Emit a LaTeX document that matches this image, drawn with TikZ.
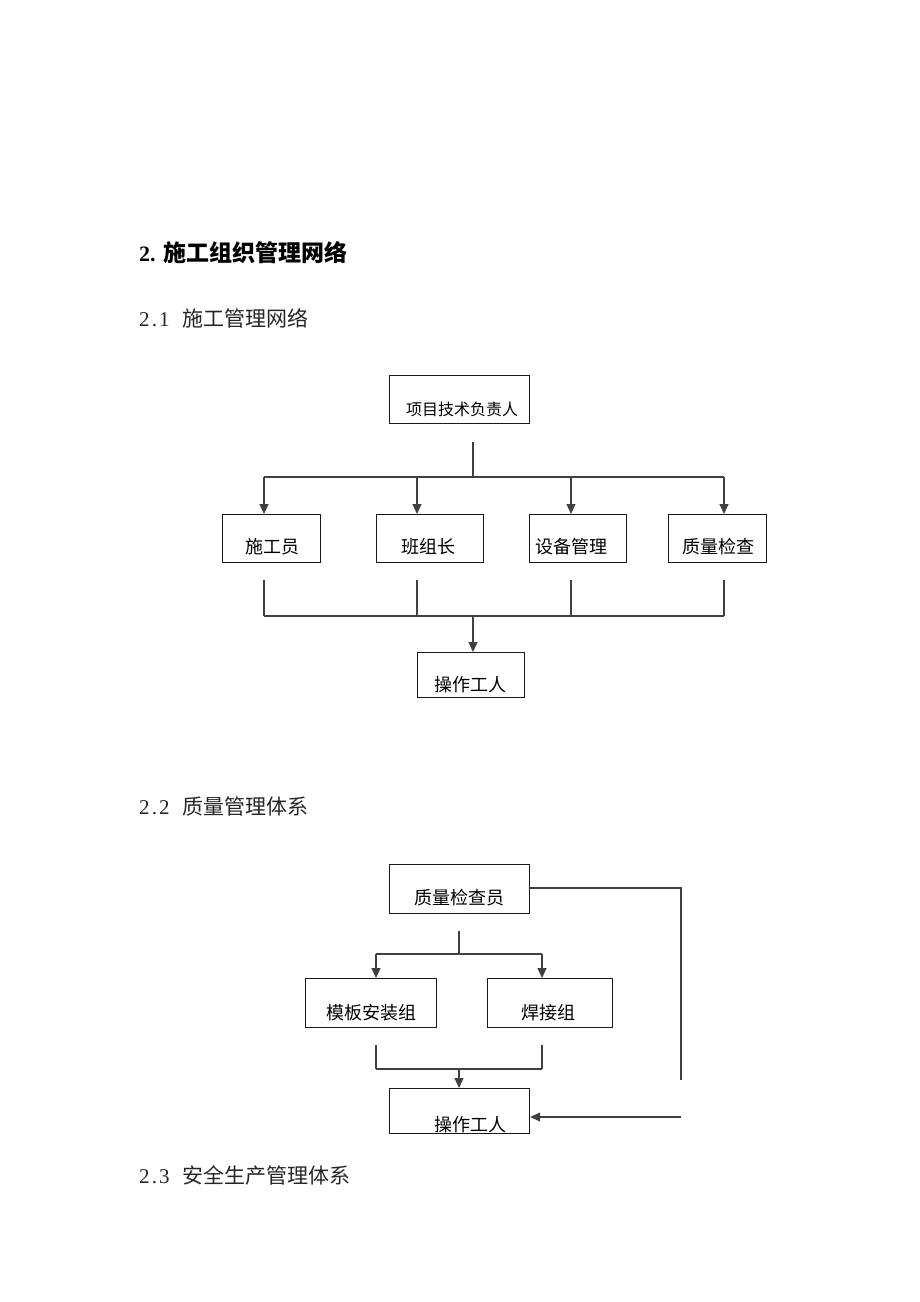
\documentclass[tikz,border=0pt]{standalone}
\usepackage{fontspec}
\setmainfont{Liberation Serif}
\newfontfamily\digitfont[LetterSpace=10]{Liberation Serif}
\newfontfamily\cjk{Noto Sans CJK SC}
\usetikzlibrary{arrows.meta}
\begin{document}
\begin{tikzpicture}[x=1pt,y=-1pt,
  box/.style={draw=black!90, line width=1.2pt, inner sep=0pt, anchor=north west},
  lab/.style={font=\cjk\fontsize{18}{18}\selectfont, inner sep=0pt, text=black},
  head/.style={font=\fontsize{21}{21}\selectfont, inner sep=0pt, anchor=west, text=black!85},
  ln/.style={draw=black!75, line width=1.2pt},
  arr/.style={ln, -{Triangle[length=10pt,width=9pt]}}]
\useasboundingbox (0,0) rectangle (920,1302);
\fill[white] (0,0) rectangle (920,1302);

% headings
\node[inner sep=0pt, anchor=west, text=black] (title) at (139,253)
  {\fontsize{22}{22}\selectfont\bfseries\makebox[24pt][l]{2.}{\cjk\fontsize{23}{23}\selectfont 施工组织管理网络}};
\node[head] (h21) at (139,318) {\makebox[43pt][l]{\digitfont 2.1}{\cjk 施工管理网络}};
\node[head] (h22) at (139,806) {\makebox[43pt][l]{\digitfont 2.2}{\cjk 质量管理体系}};
\node[head] (h23) at (139,1175) {\makebox[43pt][l]{\digitfont 2.3}{\cjk 安全生产管理体系}};

% ---------- 2.1 construction management network ----------
\node[box, minimum width=140pt, minimum height=48pt] (top) at (389,375) {};
\node[lab, font=\cjk\fontsize{16}{16}\selectfont] (ttop) at (462,409) {项目技术负责人};

\node[box, minimum width=98pt, minimum height=48pt] (b1) at (222,514) {};
\node[box, minimum width=107pt, minimum height=48pt] (b2) at (376,514) {};
\node[box, minimum width=97pt, minimum height=48pt] (b3) at (529,514) {};
\node[box, minimum width=98pt, minimum height=48pt] (b4) at (668,514) {};
\node[lab] (tb1) at (272,547) {施工员};
\node[lab] (tb2) at (428,547) {班组长};
\node[lab] (tb3) at (571,547) {设备管理};
\node[lab] (tb4) at (718,547) {质量检查};

\node[box, minimum width=107pt, minimum height=45pt] (op1) at (417,652) {};
\node[lab] (top1) at (470,685) {操作工人};

\coordinate (s1) at (473,442);
\coordinate (j1) at (473,477);
\coordinate (a1) at (264,477);
\coordinate (a2) at (417,477);
\coordinate (a3) at (571,477);
\coordinate (a4) at (724,477);
\draw[ln] (s1) -- (j1);
\draw[ln] (a1) -- (a4);
\draw[arr] (a1) -- (a1 |- b1.north);
\draw[arr] (a2) -- (a2 |- b2.north);
\draw[arr] (a3) -- (a3 |- b3.north);
\draw[arr] (a4) -- (a4 |- b4.north);

\coordinate (c1) at (264,580);
\coordinate (c2) at (417,580);
\coordinate (c3) at (571,580);
\coordinate (c4) at (724,580);
\coordinate (d1) at (264,616);
\coordinate (d2) at (417,616);
\coordinate (d3) at (571,616);
\coordinate (d4) at (724,616);
\coordinate (k1) at (473,616);
\draw[ln] (c1) -- (d1);
\draw[ln] (c2) -- (d2);
\draw[ln] (c3) -- (d3);
\draw[ln] (c4) -- (d4);
\draw[ln] (d1) -- (d4);
\draw[arr] (k1) -- (k1 |- op1.north);

% ---------- 2.2 quality management system ----------
\node[box, minimum width=140pt, minimum height=49pt] (q) at (389,864) {};
\node[lab] (tq) at (459,898) {质量检查员};

\node[box, minimum width=131pt, minimum height=49pt] (m1) at (305,978) {};
\node[box, minimum width=125pt, minimum height=49pt] (m2) at (487,978) {};
\node[lab] (tm1) at (371,1013) {模板安装组};
\node[lab] (tm2) at (548,1013) {焊接组};

\node[box, minimum width=140pt, minimum height=45pt] (op2) at (389,1088) {};
\node[lab] (top2) at (470,1125) {操作工人};

\coordinate (s2) at (459,931);
\coordinate (j2) at (459,954);
\coordinate (e1) at (376,954);
\coordinate (e2) at (542,954);
\draw[ln] (s2) -- (j2);
\draw[ln] (e1) -- (e2);
\draw[arr] (e1) -- (e1 |- m1.north);
\draw[arr] (e2) -- (e2 |- m2.north);

\coordinate (f1) at (376,1045);
\coordinate (f2) at (542,1045);
\coordinate (g1) at (376,1069);
\coordinate (g2) at (542,1069);
\coordinate (k2) at (459,1069);
\draw[ln] (f1) -- (g1);
\draw[ln] (f2) -- (g2);
\draw[ln] (g1) -- (g2);
\draw[arr] (k2) -- (k2 |- op2.north);

\coordinate (r1) at (681,888);
\coordinate (r2) at (681,1080);
\coordinate (r3) at (681,1117);
\draw[ln] (q.east |- r1) -- (r1) -- (r2);
\draw[arr] (r3) -- (op2.east |- r3);
\end{tikzpicture}
\end{document}
